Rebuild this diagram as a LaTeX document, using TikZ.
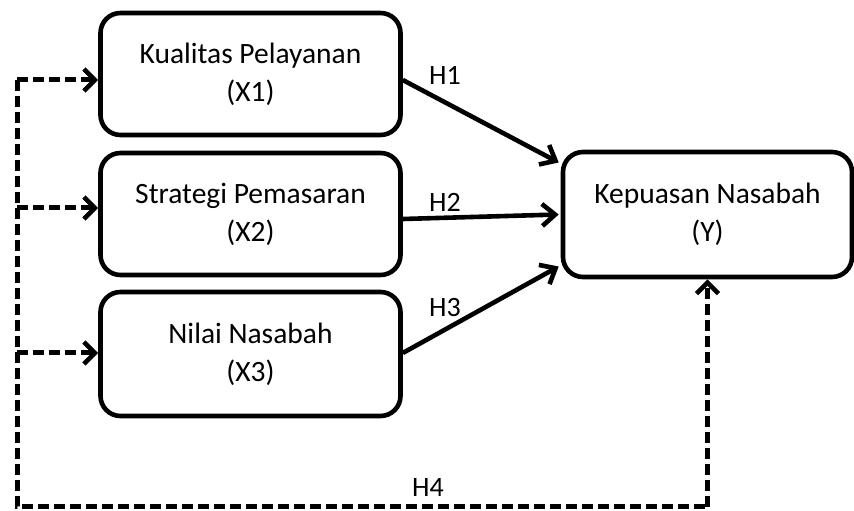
\documentclass[tikz,border=0pt]{standalone}
\usepackage{fontspec}
\setmainfont{Carlito}
\usetikzlibrary{arrows.meta,calc}
\begin{document}
\begin{tikzpicture}[x=1pt,y=1pt,
  box/.style={draw=black, line width=4.6pt, rounded corners=20pt, align=center, inner sep=0pt,
    font=\fontsize{29.5}{38}\selectfont},
  solidarrow/.style={line width=4.6pt, -{Straight Barb[length=13pt,width=22pt,line width=4.6pt]}},
  dasharrow/.style={line width=5pt, dash pattern=on 11pt off 5pt, -{Straight Barb[length=11pt,width=22pt,line width=4.6pt]}},
  dashline/.style={line width=5pt, dash pattern=on 11pt off 5pt},
  lbl/.style={font=\fontsize{28}{32}\selectfont, inner sep=0pt}]
\useasboundingbox (0,0) rectangle (854,511);
\node[box, minimum width=300pt, minimum height=122pt] (X1) at (250.5,437) {Kualitas Pelayanan\\(X1)};
\node[box, minimum width=300pt, minimum height=122pt] (X2) at (250.5,297) {Strategi Pemasaran\\(X2)};
\node[box, minimum width=300pt, minimum height=124pt] (X3) at (250.5,157) {Nilai Nasabah\\(X3)};
\node[box, minimum width=289pt, minimum height=125pt] (Y) at (707.5,296.5) {Kepuasan Nasabah\\(Y)};
\coordinate (tl) at (17,431);
\coordinate (m2) at (17,303);
\coordinate (m3) at (17,158);
\coordinate (bl) at (17,4);
\coordinate (br) at ($(Y.south |- bl)$);
\draw[solidarrow] ($(X1.east)+(0,-6)$) -- ($(Y.west)+(-2,52)$);
\draw[solidarrow] ($(X2.east)+(0,-5)$) -- ($(Y.west)+(-2,0)$);
\draw[solidarrow] ($(X3.east)+(0,1)$) -- ($(Y.west)+(-2,-52)$);
\draw[dashline] (tl) -- (bl) -- (br);
\draw[dasharrow] (br) -- (Y.south);
\draw[dasharrow] (tl) -- (tl -| X1.west);
\draw[dasharrow] (m2) -- (m2 -| X2.west);
\draw[dasharrow] (m3) -- (m3 -| X3.west);
\node[lbl] (h1) at (445,436) {H1};
\node[lbl] (h2) at (445,309) {H2};
\node[lbl] (h3) at (445,203) {H3};
\node[lbl] (h4) at (428,23) {H4};
\end{tikzpicture}
\end{document}
